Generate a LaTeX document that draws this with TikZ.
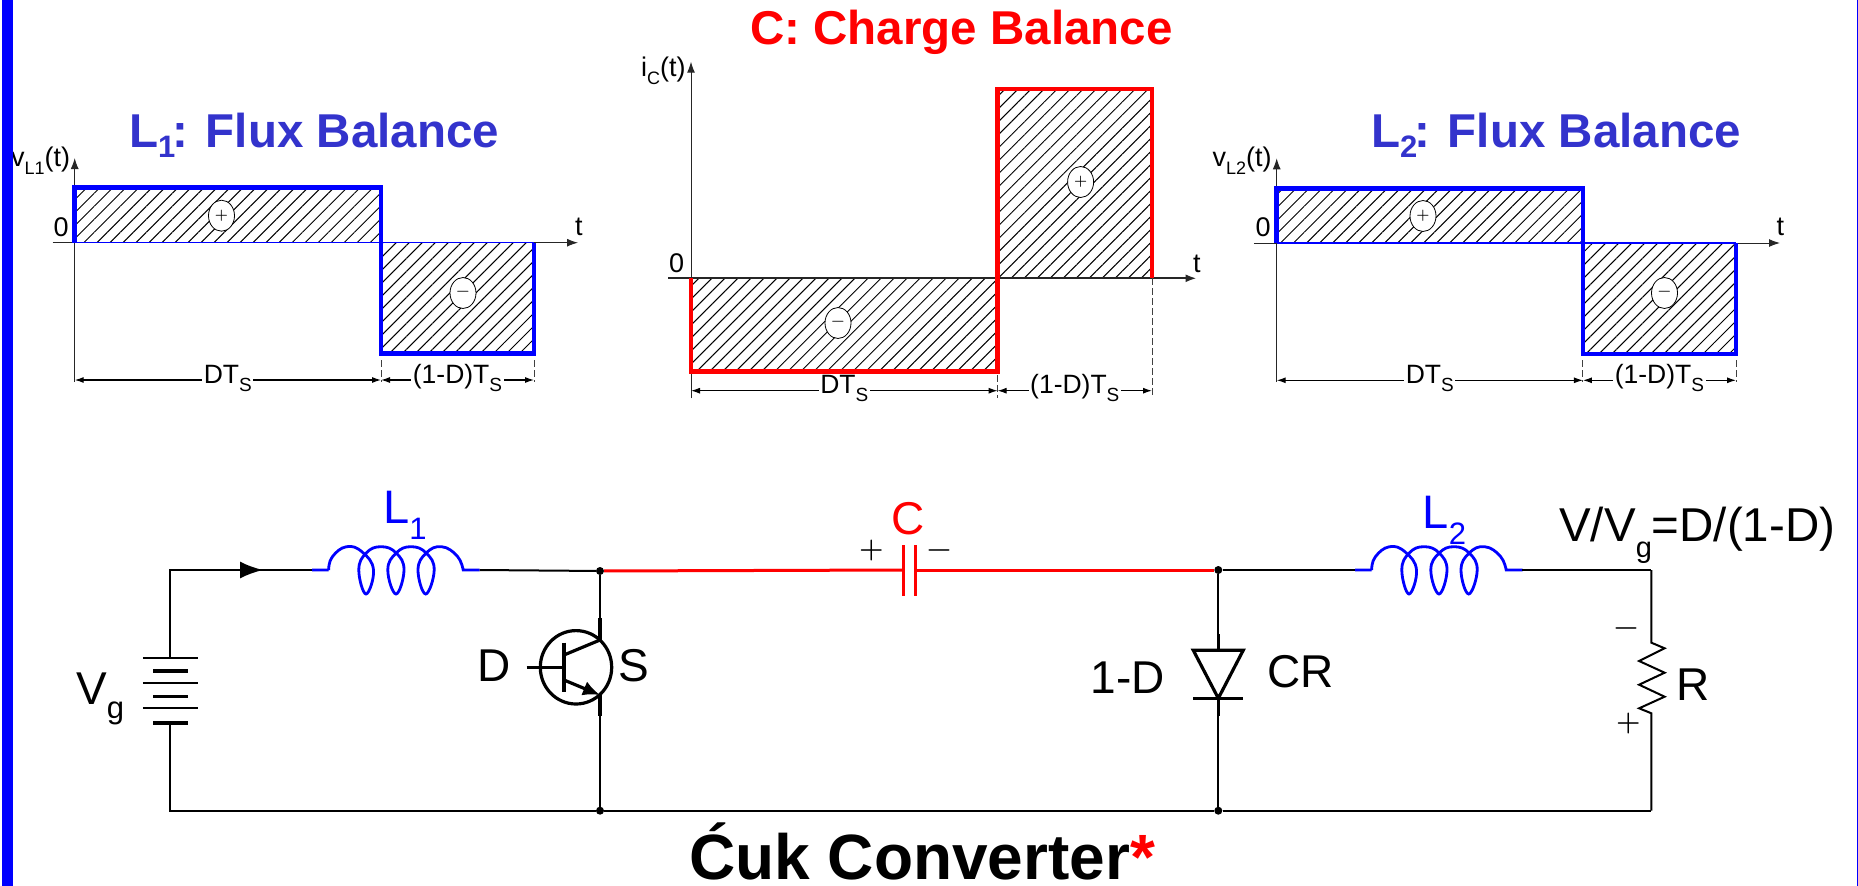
\documentclass[tikz,border=0pt]{standalone}
\usepackage{fontspec}
\usetikzlibrary{arrows.meta,patterns.meta,shapes.geometric}
\newfontfamily\arial{Liberation Sans}
\newcommand{\Fs}[1]{\arial\fontsize{#1}{#1}\selectfont}
\newcommand{\Sg}[1]{\rmfamily\bfseries\fontsize{#1}{#1}\selectfont}
\newcommand{\subtext}[3]{\raisebox{-#1pt}{\Fs{#2}#3}}
\definecolor{titleblue}{HTML}{3333CC}
\tikzset{coil/.pic={
  \draw[blue, line width=2.8pt] (0,0) -- (16.4,0)
    plot[smooth, tension=0.75] coordinates {(16.4,0) (20,-13) (34.3,-23.3) (50,-18) (61.3,0) (53.8,24) (46.6,0) (54,-17)
      (68.8,-23.3) (84,-17) (91.8,0) (83.8,24) (75.6,0) (84,-17)
      (98.8,-23.3) (114,-17) (122,0) (113.5,24) (105.8,0) (114,-17)
      (129.4,-23.3) (145,-14) (151,0)} -- (167.4,0);
}}

\begin{document}
\begin{tikzpicture}[x=1pt, y=-1pt,
  >={Latex[length=11pt,width=8pt]},
  lbl/.style={inner sep=0pt, anchor=base west},
  plotlbl/.style={lbl, font=\Fs{27}},
  hatch/.style={pattern={Lines[angle=45,distance=9.2pt,line width=1pt]}},
  axis/.style={->, line width=1pt, black!85},
  dimline/.style={<->, line width=1.1pt, >={Latex[length=9pt,width=6pt]}},
  dimtick/.style={line width=1pt, black!75, dash pattern=on 7pt off 3pt},
  bluewave/.style={draw=blue, line width=4.5pt, line join=miter},
  redwave/.style={draw=red, line width=4.5pt, line join=miter},
  sign/.style={ellipse, draw, line width=0.8pt, fill=white, inner sep=0pt, minimum width=26pt, minimum height=31pt, font=\Sg{15}},
  dimtext/.style={midway, fill=white, inner sep=1.5pt, anchor=mid, yshift=-1pt, font=\Fs{26.5}},
  wire/.style={line width=2pt},
  part/.style={line width=3.2pt},
  jdot/.style={circle, fill, inner sep=0pt, minimum size=8pt}]

  \useasboundingbox (0,0) rectangle (1858,886);

  % Titles
  \node[lbl, font=\bfseries\Fs{47.5}, text=titleblue] (TL1) at (129,147.3) {L\subtext{10}{31}{\textbf{1}}\kern-3pt: Flux Balance};
  \node[lbl, font=\bfseries\Fs{47.5}, text=red] (TC) at (750,44.3) {C: Charge Balance};
  \node[lbl, font=\bfseries\Fs{47.5}, text=titleblue] (TL2) at (1371,147.3) {L\subtext{10}{31}{\textbf{2}}\kern-3pt: Flux Balance};

  % First plot, L1
  \coordinate (A0) at (74.7,242.7);
  \coordinate (AM) at (381,242.7);
  \coordinate (AR) at (534,242.7);
  \coordinate (AT) at (74.7,187.3);
  \coordinate (AB) at (381,353.3);
  \path[hatch] (A0) rectangle (AM |- AT);
  \path[hatch] (AM) rectangle (AR |- AB);
  \coordinate (AXl) at (52.6,242.7);
  \coordinate (AXr) at (578,242.7);
  \coordinate (AYb) at (74.7,382);
  \coordinate (AYt) at (74.7,158);
  \draw[axis] (AXl) -- (AXr);
  \draw[axis] (AYb) -- (AYt);
  \draw[blue, line width=1.2pt] (A0) -- (AR);
  \draw[bluewave] (A0) -- (AT) -- (AM |- AT) -- (AB) -- (AR |- AB) -- (AR);
  \draw[dimtick] (381,360) -- (381,382);
  \draw[dimtick] (534,360) -- (534,382);
  \draw[dimline] (74.7,380) -- (381,380) node[dimtext] (A3) {DT\subtext{8}{19}{S}};
  \draw[dimline] (381,380) -- (534,380) node[dimtext] (A4) {(1-D)T\subtext{8}{19}{S}};
  \node[sign] (A1) at (221.5,215.7) {+};
  \node[sign] (A2) at (463,293) {−};
  \node[plotlbl] (J1) at (11,166) {v\subtext{8}{18}{L1}(t)};
  \node[plotlbl] (Z1) at (53.5,236.7) {0};
  \node[plotlbl] (E1) at (575,235) {t};

  % Second plot, C
  \coordinate (B0) at (691,278.3);
  \coordinate (BM) at (997.6,278.3);
  \coordinate (BR) at (1152,278.3);
  \coordinate (BT) at (997.6,89);
  \coordinate (BB) at (691,371.7);
  \path[hatch] (B0) rectangle (BM |- BB);
  \path[hatch] (BM) rectangle (BR |- BT);
  \coordinate (BXl) at (668,278.3);
  \coordinate (BXr) at (1196.5,278.3);
  \coordinate (BYb) at (691,398.3);
  \coordinate (BYt) at (691,61.7);
  \draw[axis, line width=1.8pt] (BXl) -- (BXr);
  \draw[axis] (BYb) -- (BYt);
  \draw[redwave] (B0) -- (BB) -- (BM |- BB) -- (BT) -- (BR |- BT) -- (BR);
  \draw[dimtick] (997.6,375) -- (997.6,398.3);
  \draw[dimtick] (BR) -- (1152,398.3);
  \draw[dimline] (691,390.7) -- (997.6,390.7) node[dimtext] (B3) {DT\subtext{8}{19}{S}};
  \draw[dimline] (997.6,390.7) -- (1152,390.7) node[dimtext] (B4) {(1-D)T\subtext{8}{19}{S}};
  \node[sign] (B1) at (1080.6,182) {+};
  \node[sign] (B2) at (838,323) {−};
  \node[plotlbl] (J2) at (641,76) {i\subtext{8}{18}{C}(t)};
  \node[plotlbl] (Z2) at (669,272.7) {0};
  \node[plotlbl] (E2) at (1193,272.7) {t};

  % Third plot, L2
  \coordinate (C0) at (1276.7,243);
  \coordinate (CM) at (1582.9,243);
  \coordinate (CR) at (1736,243);
  \coordinate (CT) at (1276.7,188.3);
  \coordinate (CB) at (1582.9,354);
  \path[hatch] (C0) rectangle (CM |- CT);
  \path[hatch] (CM) rectangle (CR |- CB);
  \coordinate (CXl) at (1253.9,243);
  \coordinate (CXr) at (1780,243);
  \coordinate (CYb) at (1276.7,382);
  \coordinate (CYt) at (1276.7,158.3);
  \draw[axis] (CXl) -- (CXr);
  \draw[axis] (CYb) -- (CYt);
  \draw[blue, line width=1.2pt] (C0) -- (CR);
  \draw[bluewave] (C0) -- (CT) -- (CM |- CT) -- (CB) -- (CR |- CB) -- (CR);
  \draw[dimtick] (1582.9,360) -- (1582.9,382);
  \draw[dimtick] (1736,360) -- (1736,382);
  \draw[dimline] (1276.7,380.3) -- (1582.9,380.3) node[dimtext] (C3) {DT\subtext{8}{19}{S}};
  \draw[dimline] (1582.9,380.3) -- (1736,380.3) node[dimtext] (C4) {(1-D)T\subtext{8}{19}{S}};
  \node[sign] (C1) at (1423,216) {+};
  \node[sign] (C2) at (1664.5,293) {−};
  \node[plotlbl] (J3) at (1212.5,166) {v\subtext{8}{18}{L2}(t)};
  \node[plotlbl] (Z3) at (1255.5,236.7) {0};
  \node[plotlbl] (E3) at (1776.5,235) {t};

  % Circuit corners and junctions
  \coordinate (TL) at (169.8,570);
  \coordinate (BL) at (169.8,810.7);
  \coordinate (TR) at (1651.4,570);
  \coordinate (BR2) at (1651.4,810.7);
  \node[jdot] (N1) at (600,571) {};
  \node[jdot] (N2) at (600,810.7) {};
  \node[jdot] (N3) at (1218.3,570) {};
  \node[jdot] (N4) at (1218.3,810.7) {};

  % Source
  \coordinate (Ba) at (169.8,658);
  \coordinate (Bb) at (169.8,723);
  \foreach \ya in {658,683.3,707.7} \draw[line width=2pt] (142.9,\ya) -- (197.6,\ya);
  \foreach \ya in {671,696.7,723} \draw[line width=3.4pt] (153,\ya) -- (187.8,\ya);
  \coordinate (Ia) at (263,570);
  \coordinate (L1a) at (312.2,570);
  \coordinate (L1b) at (479.6,570);
  \draw[wire] (Ba) -- (TL) -- (L1a);
  \draw[wire, -{Latex[length=23pt,width=17pt]}] (TL) -- (Ia);
  \draw[wire] (Bb) -- (BL) -- (N2);
  \pic at (L1a) {coil};
  \draw[wire] (L1b) -- (N1);

  % Switch
  \coordinate (Sc) at (600,640);
  \coordinate (Se) at (600,695);
  \coordinate (Sb) at (564,667.3);
  \draw[wire] (N1) -- (600,618);
  \draw[wire] (N2) -- (600,716);
  \draw[part] (600,618) -- (Sc);
  \draw[part] (Se) -- (600,716);
  \draw[part] (576,667.3) circle[x radius=35.7, y radius=36.7];
  \draw[part] (526.7,667.3) -- (Sb);
  \draw[part] (564,642.7) -- (564,692.3);
  \draw[part] (564,655) -- (Sc);
  \draw[part, -{Latex[length=17pt,width=15pt]}] (564,680) -- (Se);

  % Capacitor
  \coordinate (Ca) at (903.3,570);
  \coordinate (Cb) at (915.3,570);
  \draw[red, line width=3pt] (N1) -- (Ca);
  \draw[red, line width=3pt] (Cb) -- (N3);
  \draw[red, line width=3.4pt] (903.3,545) -- (903.3,596);
  \draw[red, line width=3.4pt] (915.3,545) -- (915.3,596);

  % Diode
  \coordinate (Da) at (1218.3,650.3);
  \coordinate (Db) at (1218.3,698.3);
  \draw[wire] (N3) -- (1218.3,634);
  \draw[wire] (N4) -- (1218.3,716);
  \draw[part] (1218.3,634) -- (Da);
  \draw[part] (Db) -- (1218.3,716);
  \draw[part, line join=miter] (1193.3,650.3) -- (1243.2,650.3) -- (Db) -- cycle;
  \draw[part] (1193.3,698.3) -- (1243.2,698.3);

  % Output side
  \coordinate (L2a) at (1355.2,570);
  \coordinate (L2b) at (1521.6,570);
  \draw[wire] (N3) -- (L2a);
  \pic at (L2a) {coil};
  \draw[wire] (L2b) -- (TR);
  \draw[wire] (N4) -- (BR2);
  \coordinate (Ra) at (1651.4,642.7);
  \coordinate (Rb) at (1651.4,713.3);
  \draw[wire] (TR) -- (Ra) -- (1664.6,648.3) -- (1639.1,661) -- (1664.6,672.7) -- (1639.1,684.7) -- (1664.6,696.7) -- (1639.1,708.3) -- (Rb) -- (BR2);
  \draw[wire] (N2) -- (N4);

  % Circuit labels
  \node[lbl, font=\Fs{46}] (Vg) at (76,704) {V\subtext{14}{31}{g}};
  \node[lbl, font=\Fs{47}, text=blue] (L1) at (383,523.3) {L\subtext{16}{31}{1}};
  \node[lbl, font=\Fs{46}] (SD) at (477.5,681) {D};
  \node[lbl, font=\Fs{46}] (SS) at (618,681) {S};
  \node[lbl, font=\Fs{46}, text=red] (CL) at (891.5,534.3) {C};
  \node[lbl, font=\Fs{46}] (D1) at (1090.5,693.3) {1-D};
  \node[lbl, font=\Fs{46}] (CR) at (1267,687.3) {CR};
  \node[lbl, font=\Fs{47}, text=blue] (L2) at (1422.5,528.3) {L\subtext{16}{31}{2}};
  \node[lbl, font=\Fs{47.5}] (Gn) at (1559,541) {V/V\subtext{16}{29}{g}=D/(1-D)};
  \node[lbl, font=\Fs{46}] (RL) at (1676.5,700) {R};
  \node[anchor=mid, inner sep=0pt, font=\Sg{28}] (Cp) at (871.3,555) {+};
  \node[anchor=mid, inner sep=0pt, font=\Sg{28}] (Cm) at (939,555) {−};
  \node[anchor=mid, inner sep=0pt, font=\Sg{28}] (Rm) at (1626,633) {−};
  \node[anchor=mid, inner sep=0pt, font=\Sg{28}] (Rp) at (1628.4,728) {+};
  \node[lbl, font=\bfseries\Fs{64}] (Tb) at (689,879) {Ćuk Converter\textcolor{red}{*}};

  % Edge of the slide
  \fill[blue] (2,0) rectangle (12.5,886);
  \fill[blue] (1857,0) rectangle (1858,886);

\end{tikzpicture}
\end{document}
